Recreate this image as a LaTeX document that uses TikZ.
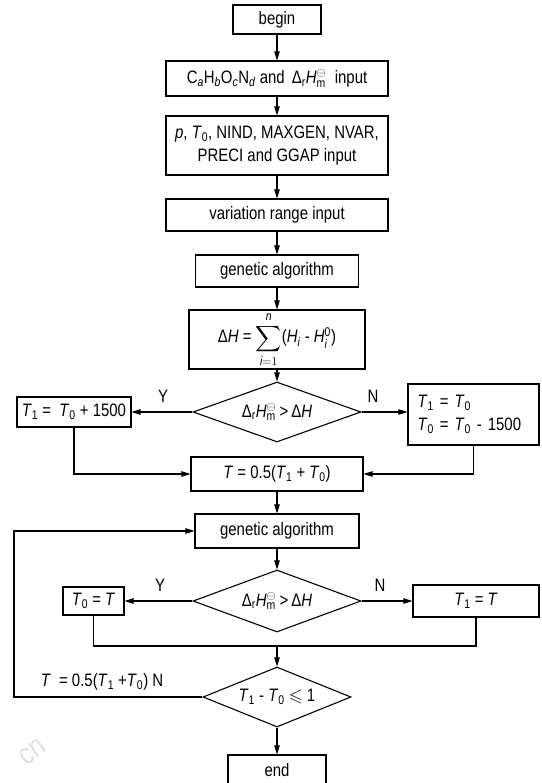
\documentclass[tikz,border=0pt]{standalone}
\usepackage{amsmath,amssymb}
\usepackage{fontspec}
\setmainfont[FakeStretch=0.83]{Liberation Sans}
\usetikzlibrary{arrows.meta,shapes.geometric}
\newcommand\Hm{\textit{H}\ensuremath{^{\ominus}_{\text{m}}}}
\newcommand\Dr{Δ\textsubscript{r}}
\newcommand\Ti[1]{\textit{T}\textsubscript{#1}}
\begin{document}
\begin{tikzpicture}[x=1pt,y=-1pt,
  font=\fontsize{18}{23}\selectfont,
  box/.style={draw, line width=1.1pt, inner sep=0pt, align=center},
  dia/.style={draw, diamond, line width=1.1pt, inner sep=0pt, aspect=2.8},
  arr/.style={-{Triangle[length=9pt,width=5.5pt]}, line width=1.1pt},
  ln/.style={line width=1.1pt},
  lab/.style={inner sep=0pt}]
\useasboundingbox (0,0) rectangle (541,783);
\clip (0,0) rectangle (541,783);

\node[text=black!12, rotate=35, font=\fontsize{30}{30}\selectfont] (wm) at (33,752) {cn};

\node[box, minimum width=88pt, minimum height=29pt] (begin) at (277,19.5) {begin};
\node[box, minimum width=222pt, minimum height=35pt] (inp1) at (277,78.5)
  {C\textsubscript{\textit{a}}H\textsubscript{\textit{b}}O\textsubscript{\textit{c}}N\textsubscript{\textit{d}} and \,\Dr\Hm\ \ input};
\node[box, minimum width=222pt, minimum height=59pt] (inp2) at (277,145.5)
  {\textit{p}, \Ti{0}, NIND, MAXGEN, NVAR,\\ PRECI and GGAP input};
\node[box, minimum width=222pt, minimum height=32pt] (var) at (277,215) {variation range input};
\node[box, minimum width=163pt, minimum height=32pt] (ga1) at (277,271) {genetic algorithm};
\node[box, minimum width=176pt, minimum height=59pt] (dh) at (277,339.5)
  {Δ\textit{H} = $\displaystyle\sum_{\textit{i}=1}^{\textit{n}}$(\textit{H}\textsubscript{\textit{i}} - \textit{H}$^{\text{0}}_{\textit{i}}$)};
\node[dia, minimum width=168pt, minimum height=60pt] (d1) at (277,412) {\Dr\Hm\,>\,Δ\textit{H}};
\node[box, minimum width=114pt, minimum height=30pt] (l1) at (74,412) {\Ti{1} = \ \Ti{0} + 1500};
\node[box, minimum width=131pt, minimum height=61pt, text width=112pt, align=left] (r1) at (473.5,414.5)
  {\Ti{1} = \Ti{0}\\ \Ti{0} = \Ti{0} - 1500};
\node[box, minimum width=172pt, minimum height=34pt] (tbox) at (277,474) {\textit{T} = 0.5(\Ti{1} + \Ti{0})};
\node[box, minimum width=164pt, minimum height=34pt] (ga2) at (277,531) {genetic algorithm};
\node[dia, minimum width=168pt, minimum height=62pt] (d2) at (277,601) {\Dr\Hm\,>\,Δ\textit{H}};
\node[box, minimum width=61pt, minimum height=28pt] (l2) at (93.5,601) {\Ti{0} = \textit{T}};
\node[box, minimum width=126pt, minimum height=32pt] (r2) at (476,601) {\Ti{1} = \textit{T}};
\node[dia, minimum width=148pt, minimum height=60pt] (d3) at (277,697) {\Ti{1} - \Ti{0} $\leqslant$ 1};
\node[box, minimum width=98pt, minimum height=30pt] (end) at (277,770) {end};

\node[lab] (y1) at (163,396) {Y};
\node[lab] (n1) at (373,396) {N};
\node[lab] (y2) at (160,585) {Y};
\node[lab] (n2) at (380,585) {N};
\node[lab] (lbl) at (102,682) {\textit{T} \ = 0.5(\Ti{1} +\Ti{0}) N};

\coordinate (m) at (277,646);
\coordinate (lp) at (14,531);

\draw[arr] (begin) -- (inp1);
\draw[arr] (inp1) -- (inp2);
\draw[arr] (inp2) -- (var);
\draw[arr] (var) -- (ga1);
\draw[arr] (ga1) -- (dh);
\draw[arr] (dh) -- (d1);
\draw[arr] (d1.west) -- (l1.east);
\draw[arr] (d1.east) -- (d1.east -| r1.west);
\draw[arr] (l1.south) |- (tbox.west);
\draw[arr] (r1.south) |- (tbox.east);
\draw[arr] (tbox) -- (ga2);
\draw[arr] (ga2) -- (d2);
\draw[arr] (d2.west) -- (l2.east);
\draw[arr] (d2.east) -- (r2.west);
\draw[ln] (l2.south) |- (m) -| (r2.south);
\draw[arr] (m) -- (d3.north);
\draw[arr] (d3.west) -| (lp) -- (ga2.west);
\draw[arr] (d3.south) -- (end.north);
\end{tikzpicture}
\end{document}
